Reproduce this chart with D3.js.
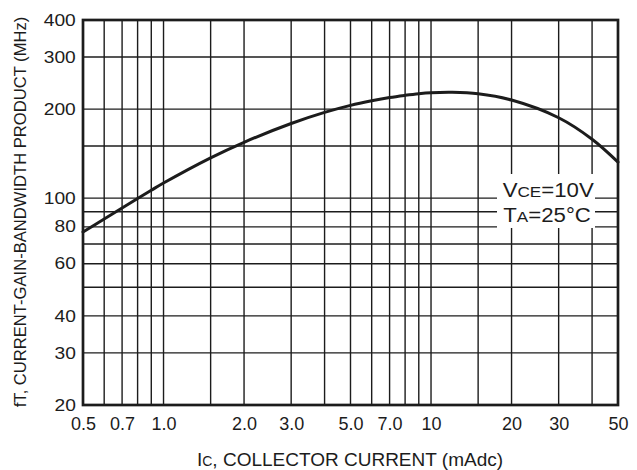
<!DOCTYPE html>
<html><head><meta charset="utf-8">
<script src="https://cdn.jsdelivr.net/npm/d3@7"></script>
<style>html,body{margin:0;padding:0;background:#fff;} svg{display:block;}</style>
</head><body>
<svg id="chart" width="637" height="470"></svg>
<script>
// ---- data ----
const currentMA = [0.5, 0.6, 0.7, 0.8, 0.9, 1.0, 1.5, 2.0, 3.0, 4.0, 5.0, 6.0, 7.0, 8.0, 9.0, 10, 12, 15, 20, 30, 40, 50];
const fTMHz     = [76.9, 85.0, 92.6, 99.7, 106.3, 112.5, 136.9, 154.5, 178.8, 194.9, 205.9, 213.4, 218.9, 222.6, 225.4, 227.1, 227.9, 225.4, 214.6, 187.0, 158.2, 132.4];
const xGridValues = [0.6, 0.7, 0.8, 0.9, 1, 1.5, 2, 3, 4, 5, 6, 7, 8, 9, 10, 15, 20, 30, 40];
const yGridValues = [30, 40, 50, 60, 70, 80, 90, 100, 150, 200, 300];
const xTickValues = [0.5, 0.7, 1, 2, 3, 5, 7, 10, 20, 30, 50];
const xTickLabels = ["0.5", "0.7", "1.0", "2.0", "3.0", "5.0", "7.0", "10", "20", "30", "50"];
const yTickValues = [20, 30, 40, 60, 80, 100, 200, 300, 400];
const yTickLabels = ["20", "30", "40", "60", "80", "100", "200", "300", "400"];

// ---- layout ----
const svg = d3.select("#chart");
const L = 83, R = 618, T = 20, B = 405;
const ink = "#1c1c1c";
const font = "'Liberation Sans', Arial, Helvetica, sans-serif";

const x = d3.scaleLog().domain([0.5, 50]).range([L, R]);
const y = d3.scaleLog().domain([20, 400]).range([B, T]);

// grid
const grid = svg.append("g").attr("stroke", ink).attr("stroke-width", 1.4);
grid.selectAll("line.v").data(xGridValues).join("line").attr("class", "v")
  .attr("x1", d => x(d)).attr("x2", d => x(d)).attr("y1", T).attr("y2", B);
grid.selectAll("line.h").data(yGridValues).join("line").attr("class", "h")
  .attr("x1", L).attr("x2", R).attr("y1", d => y(d)).attr("y2", d => y(d));

// legend background
svg.append("rect").attr("x", 497).attr("y", 174).attr("width", 98).attr("height", 54).attr("fill", "#fff");

// frame
svg.append("rect").attr("x", L).attr("y", T).attr("width", R - L).attr("height", B - T)
  .attr("fill", "none").attr("stroke", ink).attr("stroke-width", 2.7);

// curve
const pts = currentMA.map((c, i) => [c, fTMHz[i]]);
svg.append("path").datum(pts)
  .attr("fill", "none").attr("stroke", ink).attr("stroke-width", 3)
  .attr("stroke-linecap", "round")
  .attr("d", d3.line().x(d => x(d[0])).y(d => y(d[1])).curve(d3.curveCatmullRom.alpha(0.5)));

// y axis labels
const yAxis = svg.append("g").attr("transform", `translate(${L},0)`)
  .call(d3.axisLeft(y).tickValues(yTickValues).tickFormat((d, i) => yTickLabels[i]).tickSize(0).tickPadding(6));
yAxis.select(".domain").remove();
yAxis.attr("font-family", font).attr("font-size", 16);
yAxis.selectAll("text").attr("fill", ink).attr("transform", "scale(1.2,1)");

// x axis labels
const xAxis = svg.append("g").attr("transform", `translate(0,${B})`)
  .call(d3.axisBottom(x).tickValues(xTickValues).tickFormat((d, i) => xTickLabels[i]).tickSize(0).tickPadding(12.5));
xAxis.select(".domain").remove();
xAxis.attr("font-family", font).attr("font-size", 18);
xAxis.selectAll("text").attr("fill", ink);

// axis titles
svg.append("text").attr("transform", "translate(26,212) rotate(-90)")
  .attr("text-anchor", "middle").attr("font-family", font).attr("font-size", 16.6).attr("fill", ink)
  .text("fT, CURRENT-GAIN-BANDWIDTH PRODUCT (MHz)");

const xt = svg.append("text").attr("x", 350).attr("y", 465.5)
  .attr("text-anchor", "middle").attr("font-family", font).attr("font-size", 19).attr("fill", ink);
xt.append("tspan").text("I");
xt.append("tspan").attr("font-size", 14).text("C");
xt.append("tspan").text(", COLLECTOR CURRENT (mAdc)");

// legend
const l1 = svg.append("text").attr("transform", "translate(502.7,197.3) scale(1.14,1)")
  .attr("font-family", font).attr("font-size", 19.5).attr("fill", ink);
l1.append("tspan").text("V");
l1.append("tspan").attr("font-size", 15).text("CE");
l1.append("tspan").text("=10V");
const l2 = svg.append("text").attr("transform", "translate(503.3,221.7) scale(1.14,1)")
  .attr("font-family", font).attr("font-size", 19.5).attr("fill", ink);
l2.append("tspan").text("T");
l2.append("tspan").attr("font-size", 15).text("A");
l2.append("tspan").text("=25°C");
</script>
</body></html>
